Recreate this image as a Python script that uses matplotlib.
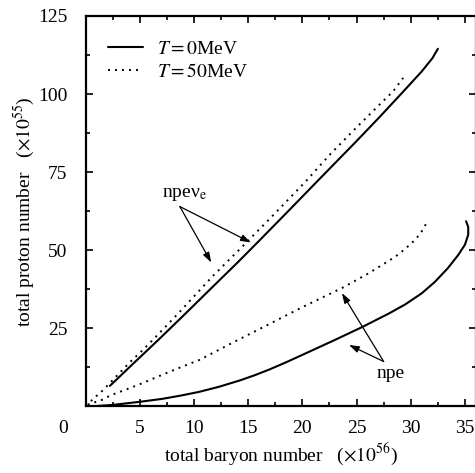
import matplotlib
matplotlib.use("Agg")
import matplotlib.pyplot as plt
from matplotlib.ticker import MultipleLocator

plt.rcParams['font.family'] = ['Liberation Serif', 'DejaVu Serif']
plt.rcParams['mathtext.fontset'] = 'stix'

# npe nu_e matter, T = 0 MeV
baryon_nu_T0 = [2.25, 4.0, 6.8, 9.0, 11.7, 14.0, 16.2, 18.8, 21.8, 24.9, 27.0, 29.2, 31.0, 32.0, 32.5]
proton_nu_T0 = [6.6, 12.4, 21.6, 29.0, 38.2, 46.0, 53.7, 62.9, 73.6, 84.6, 92.2, 100.4, 107.2, 111.5, 114.5]

# npe nu_e matter, T = 50 MeV
baryon_nu_T50 = [0.5, 0.75, 1.4, 2.0, 3.05, 4.1, 5.2, 6.2, 8.5, 11.7, 14.5, 17.5, 20.3, 22.5, 24.9, 27.2, 28.4, 29.3]
proton_nu_T50 = [1.7, 2.6, 4.5, 6.6, 10.4, 14.2, 17.8, 21.3, 29.6, 41.6, 51.3, 61.9, 72.0, 80.5, 89.0, 96.9, 101.0, 105.2]

# npe matter, T = 0 MeV
baryon_npe_T0 = [0.4, 2.5, 5.0, 7.0, 8.8, 10.5, 12.3, 14.2, 15.6, 17.0, 18.6, 20.3, 23.0, 25.5, 28.0,
                 29.5, 31.0, 32.2, 33.4, 34.4, 35.0, 35.3, 35.3, 35.1]
proton_npe_T0 = [0.0, 0.5, 1.5, 2.4, 3.5, 4.7, 6.3, 8.3, 10.0, 11.9, 14.3, 17.0, 21.3, 25.4, 29.8,
                 32.7, 36.2, 39.8, 44.2, 48.6, 51.8, 55.0, 57.5, 59.3]

# npe matter, T = 50 MeV
baryon_npe_T50 = [0.2, 1.5, 2.4, 3.65, 5.2, 6.7, 8.3, 10.5, 13.5, 16.9, 20.0, 23.7, 26.1, 28.6, 29.5, 30.3, 30.9, 31.45]
proton_npe_T50 = [0.6, 2.1, 3.7, 5.3, 7.4, 9.6, 11.9, 14.9, 20.3, 26.3, 31.8, 38.0, 42.6, 48.0, 50.5, 53.0, 55.4, 58.7]

x_ticks = [0, 5, 10, 15, 20, 25, 30, 35]
x_labels = ['', '5', '10', '15', '20', '25', '30', '35']
y_ticks = [0, 25, 50, 75, 100, 125]
y_labels = ['', '25', '50', '75', '100', '125']

fig = plt.figure(figsize=(4.75, 4.73), dpi=100)
ax = fig.add_axes([0.18, 0.1406, 0.8217, 0.8256])

solid = dict(color='black', lw=1.5, solid_capstyle='round')
dotted = dict(color='black', lw=1.4, linestyle=(0, (1, 2.6)))

ax.plot(baryon_nu_T0, proton_nu_T0, label='$T=0$MeV', **solid)
ax.plot(baryon_nu_T50, proton_nu_T50, label='$T=50$MeV', **dotted)
ax.plot(baryon_npe_T0, proton_npe_T0, **solid)
ax.plot(baryon_npe_T50, proton_npe_T50, **dotted)

ax.set_xlim(0, 36)
ax.set_ylim(0, 125)
ax.set_xticks(x_ticks)
ax.set_xticklabels(x_labels)
ax.set_yticks(y_ticks)
ax.set_yticklabels(y_labels)
ax.xaxis.set_minor_locator(MultipleLocator(2.5))
ax.yaxis.set_minor_locator(MultipleLocator(12.5))
ax.tick_params(which='both', direction='in', top=True, right=True, width=1.2)
ax.tick_params(which='major', length=5, labelsize=14)
ax.tick_params(which='minor', length=3)
ax.tick_params(axis='y', which='major', pad=13)
ax.tick_params(axis='x', which='major', pad=10)
for sp in ax.spines.values():
    sp.set_linewidth(1.6)

fig.text(63 / 475, 1 - 428 / 473, '0', ha='center', va='center', fontsize=14)

ax.set_xlabel('total baryon number   ($\\times10^{56}$)', fontsize=14, labelpad=3)
ax.set_ylabel('total proton number   ($\\times10^{55}$)', fontsize=14, labelpad=1)

leg = ax.legend(loc='upper left', bbox_to_anchor=(0.058, 0.937), frameon=False,
                fontsize=14, handlelength=1.8, handletextpad=0.7,
                labelspacing=0.25, borderaxespad=0, borderpad=0)

arrow = dict(arrowstyle='-|>,head_length=0.6,head_width=0.2', color='black', lw=0.9,
             shrinkA=0, shrinkB=0)
ax.text(9.1, 67.8, 'npeν$_\\mathrm{e}$', ha='center', va='center', fontsize=14)
ax.annotate('', xy=(11.6, 46.1), xytext=(8.7, 64.0), arrowprops=arrow)
ax.annotate('', xy=(15.25, 52.5), xytext=(8.7, 64.0), arrowprops=arrow)
ax.text(28.1, 10.7, 'npe', ha='center', va='center', fontsize=14)
ax.annotate('', xy=(23.65, 36.3), xytext=(27.5, 14.4), arrowprops=arrow)
ax.annotate('', xy=(24.3, 19.7), xytext=(27.5, 14.4), arrowprops=arrow)

fig.savefig('out.png', dpi=100)
